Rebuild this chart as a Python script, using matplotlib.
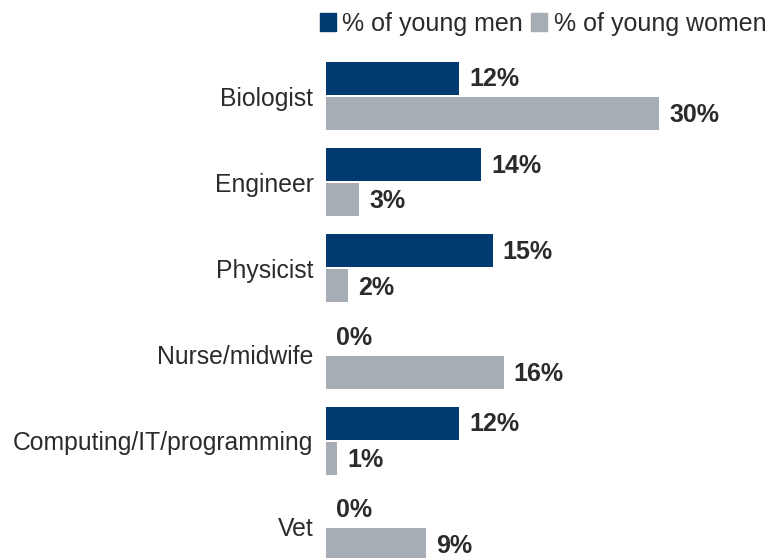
import matplotlib.pyplot as plt
from matplotlib.patches import Patch
import numpy as np

categories = ["Biologist", "Engineer", "Physicist", "Nurse/midwife",
              "Computing/IT/programming", "Vet"]
men = [12, 14, 15, 0, 12, 0]
women = [30, 3, 2, 16, 1, 9]

navy = "#003a70"
grey = "#a6adb5"
text_col = "#2b2b2b"

plt.rcParams['font.family'] = ['Liberation Sans', 'DejaVu Sans']

fig = plt.figure(figsize=(7.71, 5.58), dpi=100)
ax = fig.add_axes([326 / 771, 0, 444 / 771, 508 / 558])

y = np.arange(len(categories))
h = 0.383
off = h / 2 + 0.012

ax.barh(y - off, men, height=h, color=navy)
ax.barh(y + off, women, height=h, color=grey)

for yi, v in zip(y, men):
    ax.text(v + 0.9, yi - off + 0.01, f"{v}%", va="center", ha="left",
            fontsize=18, fontweight="bold", color=text_col)
for yi, v in zip(y, women):
    ax.text(v + 0.9, yi + off + 0.02, f"{v}%", va="center", ha="left",
            fontsize=18, fontweight="bold", color=text_col)

ax.set_xlim(0, 40)
ax.set_ylim(5.36, -0.534)
ax.set_yticks(y)
ax.set_yticklabels(categories, fontsize=17.8, color=text_col)
ax.tick_params(axis="y", length=0, pad=9)
ax.set_xticks([])
for s in ax.spines.values():
    s.set_visible(False)

handles = [Patch(color=navy, label="% of young men"),
           Patch(color=grey, label="% of young women")]
fig.legend(handles=handles, loc="upper right", bbox_to_anchor=(1.023, 1.019),
           ncol=2, frameon=False, fontsize=18, handlelength=0.64,
           handleheight=0.7, handletextpad=0.25, columnspacing=0.35,
           labelcolor=text_col)

fig.savefig("out.png", dpi=100)
